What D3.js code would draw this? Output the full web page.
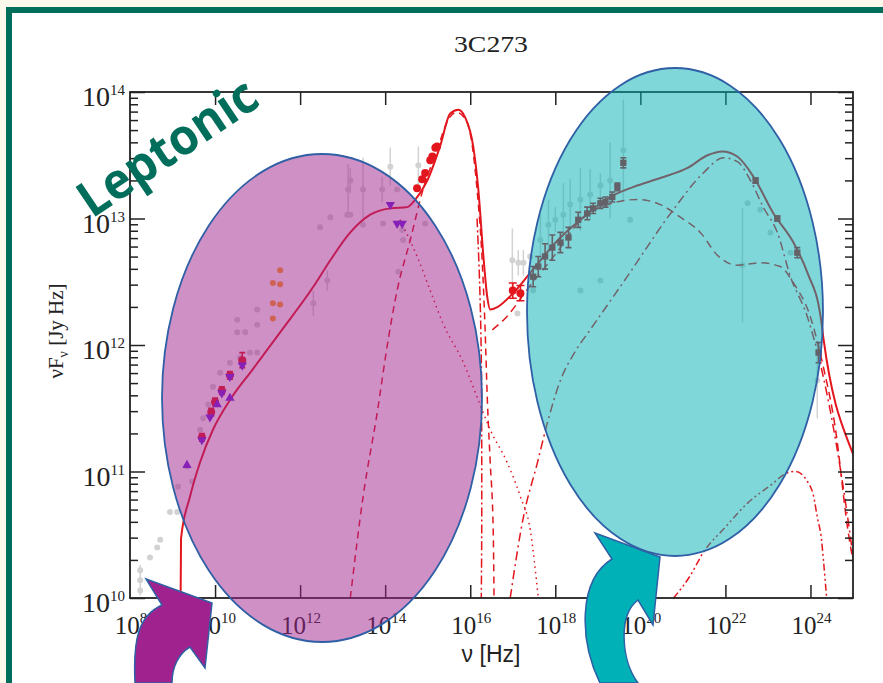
<!DOCTYPE html>
<html>
<head>
<meta charset="utf-8">
<script src="https://cdn.jsdelivr.net/npm/d3@7"></script>
<style>
  body { margin: 0; background: #fdf8ec; }
  svg { display: block; }
</style>
</head>
<body>
<div id="chart"></div>
<script>
// All values are [log10(nu / Hz), log10(nuFnu / Jy Hz), error in dex]
const archivalPoints = [
  [8.24,10.22,0.04],[8.24,10.14,0.04],[8.24,10.06,0.04],[8.47,10.32,0],[8.64,10.40,0],
  [8.71,10.46,0],[8.94,10.68,0],[9.11,10.68,0],[9.13,10.88,0],[9.46,10.92,0],
  [9.34,11.04,0],[9.65,11.33,0],[9.72,11.42,0],[9.84,11.53,0],[9.95,11.67,0],
  [10.12,11.78,0],[10.35,11.86,0],[10.59,11.90,0],[10.82,11.94,0],[10.99,11.94,0],
  [10.52,12.10,0],[10.71,12.10,0],[10.52,12.20,0],[10.99,12.28,0],[10.99,12.16,0],
  [12.31,12.33,0.1],[12.64,12.51,0.08],[12.47,12.93,0],[12.71,13.01,0],[13.11,13.03,0],
  [13.18,13.30,0.1],[13.13,13.23,0.2],[13.18,13.03,0],[13.48,13.23,0.25],[13.48,12.95,0],
  [13.93,13.23,0.1],[13.95,12.96,0],[14.12,13.41,0.15],[14.28,13.23,0],[14.40,12.91,0],
  [14.42,12.83,0],[14.31,12.58,0],[14.78,13.42,0.15],[14.94,12.96,0],
  [16.99,12.67,0.25],[17.13,12.65,0.1],[17.11,12.25,0],[17.25,12.65,0.1],[17.41,12.70,0],
  [17.48,12.43,0],[17.65,12.83,0.2],[17.84,12.95,0.2],[18.00,12.99,0.1],[18.19,13.03,0.25],
  [18.35,13.11,0.2],[18.59,13.15,0.25],[18.82,13.19,0.2],[19.06,13.26,0.1],[19.29,13.30,0.3],
  [19.60,13.54,0.4],[19.76,12.99,0],[18.59,12.43,0],[19.06,12.51,0],
  [22.40,12.63,0.45],[22.52,13.12,0],[22.82,13.07,0],[23.06,12.89,0],[23.53,12.73,0],
  [24.16,11.72,0.3]
];
const radioCircles = [[9.69,11.27,0.03],[9.91,11.47,0.03],[10.0,11.55,0.03],[10.16,11.64,0.03],[10.35,11.76,0.03],[10.64,11.88,0.06]];
const radioUpTriangles = [[9.34,11.05],[10.05,11.53],[10.35,11.58]];
const radioDownTriangles = [[9.69,11.25],[9.88,11.43],[10.16,11.62],[10.35,11.75],[10.64,11.84]];
const submmPoints = [[11.53,12.59],[11.36,12.49],[11.53,12.48],[11.36,12.33],[11.53,12.32],[11.36,12.21]];
const irDownTriangles = [[14.12,13.11],[14.28,12.96],[14.40,12.96]];
const uvPoints = [[14.75,13.24],[14.87,13.31],[14.94,13.36],[15.06,13.46],[15.11,13.49],[15.18,13.56],[15.22,13.57]];
const xrayPoints = [[17.0,12.43,0.06],[17.18,12.41,0.06]];
const highEnergyPoints = [
  [17.48,12.54,0.08],[17.60,12.62,0.08],[17.76,12.70,0.1],[17.93,12.77,0.1],[18.12,12.81,0.08],
  [18.31,12.85,0.08],[18.54,12.99,0.06],[18.75,13.04,0.05],[18.89,13.08,0.04],[19.06,13.12,0.04],
  [19.18,13.13,0.04],[19.34,13.17,0.04],[19.46,13.25,0.03],[19.60,13.44,0.04],
  [22.71,13.30,0.02],[23.22,13.00,0.02],[23.69,12.73,0.04],[24.19,11.94,0.08]
];

// leptonic model curves [log10 nu, log10 nuFnu]
const modelTotal = [
  [9.19,10.0],[9.20,10.47],[9.41,10.80],[9.65,11.075],[9.95,11.33],[10.35,11.565],[10.89,11.81],
  [11.53,12.10],[12.31,12.46],[12.71,12.67],[13.18,12.89],[13.65,13.03],[14.12,13.08],
  [14.52,13.09],[14.71,13.15],[14.99,13.30],[15.29,13.57],[15.53,13.83],[15.72,13.86],
  [15.88,13.80],[16.07,13.57],[16.19,13.23],[16.31,12.70],[16.40,12.38],[16.47,12.28],
  [16.64,12.30],[17.01,12.41],[17.41,12.57],[18.12,12.85],[18.59,12.99],[19.29,13.17],
  [19.84,13.25],[20.47,13.32],[21.11,13.40],[21.58,13.50],[21.93,13.53],[22.28,13.49],
  [22.66,13.33],[23.13,13.04],[23.60,12.81],[23.93,12.57],[24.24,12.22],[24.31,12.04],
  [24.94,11.19],[25.05,11.10]
];
const modelSynchrotron = [
  [14.35,12.99],[14.75,12.70],[15.06,12.43],[15.36,12.17],[15.84,11.86],[16.16,11.59],
  [16.47,11.33],[16.87,11.07],[17.18,10.80],[17.41,10.54],[17.60,10.0]
];
const modelDisk = [
  [13.18,10.0],[13.48,10.80],[13.81,11.46],[14.07,12.04],[14.28,12.43],[14.59,12.83],
  [14.89,13.23],[15.22,13.54],[15.48,13.78],[15.67,13.84],[15.88,13.79],[16.05,13.57],
  [16.16,13.23],[16.28,12.67],[16.35,12.12],[16.40,11.59],[16.47,11.07],[16.54,10.54],[16.56,10.0]
];
const modelTorus = [[16.16,13.0],[16.22,12.5],[16.26,11.9],[16.27,11.2],[16.27,10.5],[16.26,10.0]];
const modelEcDisk = [
  [16.94,10.0],[17.25,10.64],[17.58,11.07],[17.81,11.38],[18.12,11.72],[18.47,11.95],
  [18.82,12.12],[19.69,12.54],[20.71,13.04],[21.48,13.36],[21.95,13.48],[22.28,13.45],
  [22.59,13.30],[22.89,13.09],[23.22,12.89],[23.53,12.54],[23.93,12.22],[24.24,11.84],
  [24.59,11.25],[24.94,10.48],[25.05,10.2]
];
const modelEcBlr = [
  [16.52,12.12],[16.82,12.21],[17.41,12.47],[18.12,12.77],[18.52,12.96],[19.06,13.09],
  [19.93,13.15],[20.47,13.11],[20.94,13.01],[21.41,12.89],[21.81,12.71],[22.28,12.63],
  [22.82,12.65],[23.29,12.62],[23.60,12.49],[24.00,12.22],[24.28,11.86],[24.59,11.33],
  [24.87,10.56],[25.05,10.2]
];
const modelSsc = [
  [20.78,10.0],[21.18,10.18],[21.48,10.36],[22.0,10.56],[22.52,10.75],[23.06,10.89],
  [23.46,10.99],[23.65,11.0],[23.93,10.92],[24.07,10.81],[24.16,10.64],[24.26,10.46],
  [24.31,10.28],[24.38,10.0]
];

const xTickExps = [8, 10, 12, 14, 16, 18, 20, 22, 24];
const yTickExps = [10, 11, 12, 13, 14];

const W = 883, H = 683;
const margin = { left: 130, right: 30, top: 92, bottom: 85 };
const red = "#e3161e";

const svg = d3.select("#chart").append("svg").attr("width", W).attr("height", H);

// slide frame
svg.append("rect").attr("width", W).attr("height", H).attr("fill", "#fdf8ec");
svg.append("rect").attr("x", 9).attr("y", 10).attr("width", 900).attr("height", 700)
  .attr("fill", "#fff").attr("stroke", "#006e5b").attr("stroke-width", 6);

const x = d3.scaleLog().domain([1e8, 1e25]).range([margin.left, W - margin.right]);
const y = d3.scaleLog().domain([1e10, 1e14]).range([H - margin.bottom, margin.top]);
const px = d => x(Math.pow(10, d[0]));
const py = v => y(Math.pow(10, v));

svg.append("defs").append("clipPath").attr("id", "plot")
  .append("rect").attr("x", x.range()[0]).attr("y", y.range()[1])
  .attr("width", x.range()[1] - x.range()[0]).attr("height", y.range()[0] - y.range()[1]);

const plot = svg.append("g").attr("clip-path", "url(#plot)");

// archival data
const arch = plot.append("g").attr("fill", "#d2d2d2").attr("stroke", "#d2d2d2");
arch.selectAll("line").data(archivalPoints.filter(d => d[2] > 0)).join("line")
  .attr("x1", px).attr("x2", px)
  .attr("y1", d => py(d[1] - d[2])).attr("y2", d => py(d[1] + d[2])).attr("stroke-width", 1.5);
arch.selectAll("circle").data(archivalPoints).join("circle")
  .attr("cx", px).attr("cy", d => py(d[1])).attr("r", 3).attr("stroke", "none");

// model curves
const line = d3.line().x(px).y(d => py(d[1])).curve(d3.curveMonotoneX);
const vLine = d3.line().x(px).y(d => py(d[1])).curve(d3.curveCatmullRom.alpha(0.5));
const curves = [
  [modelDisk, "7,5", line],
  [modelSynchrotron, "1.5,4", line],
  [modelTorus, "9,3,2,3", vLine],
  [modelEcDisk, "9,4,2,4", line],
  [modelEcBlr, "8,5", line],
  [modelSsc, "7,3,2,3,2,3", line],
  [modelTotal, null, line]
];
curves.forEach(([data, dash, gen]) => {
  plot.append("path").datum(data).attr("d", gen)
    .attr("fill", "none").attr("stroke", red)
    .attr("stroke-width", dash ? 1.5 : 2)
    .attr("stroke-dasharray", dash);
});

// measured points
function errorBars(g, data, color, cap) {
  g.selectAll(null).data(data).join("path")
    .attr("d", d => {
      const cx = px(d), y1 = py(d[1] - d[2]), y2 = py(d[1] + d[2]);
      return `M${cx},${y1}V${y2}M${cx - cap},${y1}h${2 * cap}M${cx - cap},${y2}h${2 * cap}`;
    })
    .attr("stroke", color).attr("stroke-width", 1.6).attr("fill", "none");
}
const meas = plot.append("g");
errorBars(meas, radioCircles, red, 3);
meas.selectAll(null).data(radioCircles).join("circle")
  .attr("cx", px).attr("cy", d => py(d[1])).attr("r", 4).attr("fill", red);
meas.selectAll(null).data(submmPoints).join("circle")
  .attr("cx", px).attr("cy", d => py(d[1])).attr("r", 3).attr("fill", "#ffa21a");
const tri = d3.symbol().type(d3.symbolTriangle).size(38);
meas.selectAll(null).data(radioUpTriangles).join("path")
  .attr("d", tri).attr("transform", d => `translate(${px(d)},${py(d[1])})`).attr("fill", "#6d1ee0");
meas.selectAll(null).data(radioDownTriangles.concat(irDownTriangles)).join("path")
  .attr("d", tri).attr("transform", d => `translate(${px(d)},${py(d[1])}) rotate(180)`).attr("fill", "#6d1ee0");
meas.selectAll(null).data(uvPoints).join("circle")
  .attr("cx", px).attr("cy", d => py(d[1])).attr("r", 4).attr("fill", red);
errorBars(meas, xrayPoints, red, 4);
meas.selectAll(null).data(xrayPoints).join("circle")
  .attr("cx", px).attr("cy", d => py(d[1])).attr("r", 4).attr("fill", red);
errorBars(meas, highEnergyPoints, "#c8141c", 3);
meas.selectAll(null).data(highEnergyPoints).join("path")
  .attr("d", d3.symbol().type(d3.symbolSquare).size(40))
  .attr("transform", d => `translate(${px(d)},${py(d[1])})`).attr("fill", "#c8141c");

// axes
const xMajor = xTickExps.slice(1).map(e => Math.pow(10, e));
const yMajor = yTickExps.map(e => Math.pow(10, e));
const yMinor = [];
yTickExps.slice(0, -1).forEach(e => d3.range(2, 10).forEach(m => yMinor.push(m * Math.pow(10, e))));

function styleAxis(g) {
  g.select(".domain").remove();
  g.selectAll(".tick line").attr("stroke", "#222").attr("stroke-width", 1.5);
}
const [x0, x1] = x.range(), [y0, y1] = y.range();
svg.append("g").attr("transform", `translate(0,${y0})`)
  .call(d3.axisBottom(x).tickValues(xMajor).tickSize(-13).tickFormat("")).call(styleAxis);
svg.append("g").attr("transform", `translate(0,${y1})`)
  .call(d3.axisTop(x).tickValues(xMajor).tickSize(-13).tickFormat("")).call(styleAxis);
[[x0, d3.axisLeft], [x1, d3.axisRight]].forEach(([pos, ax]) => {
  svg.append("g").attr("transform", `translate(${pos},0)`)
    .call(ax(y).tickValues(yMajor).tickSize(-15).tickFormat("")).call(styleAxis);
  svg.append("g").attr("transform", `translate(${pos},0)`)
    .call(ax(y).tickValues(yMinor).tickSize(-8).tickFormat("")).call(styleAxis);
});
svg.append("rect").attr("x", x0).attr("y", y1).attr("width", x1 - x0).attr("height", y0 - y1)
  .attr("fill", "none").attr("stroke", "#222").attr("stroke-width", 1.8);

const serif = "'Liberation Serif', 'DejaVu Serif', serif";
function powerLabel(sel, e, sup) {
  sel.append("tspan").text("10");
  sel.append("tspan").attr("dy", -11).attr("font-size", sup).text(e);
}
svg.append("g").selectAll("text").data(xTickExps).join("text")
  .attr("x", e => x(Math.pow(10, e)) + 1).attr("y", y0 + 36)
  .attr("text-anchor", "middle").attr("font-family", serif).attr("font-size", 25).attr("fill", "#222")
  .each(function (e) { powerLabel(d3.select(this), e, 15); });
svg.append("g").selectAll("text").data(yTickExps).join("text")
  .attr("x", x0 - 5).attr("y", e => y(Math.pow(10, e)) + 14)
  .attr("text-anchor", "end").attr("font-family", serif).attr("font-size", 28).attr("fill", "#222")
  .each(function (e) { powerLabel(d3.select(this), e, 15); });

svg.append("text").attr("x", 491).attr("y", 52).attr("text-anchor", "middle")
  .attr("font-family", serif).attr("font-size", 24).attr("fill", "#222")
  .attr("textLength", 74).attr("lengthAdjust", "spacingAndGlyphs").text("3C273");
svg.append("text").attr("x", 491).attr("y", 662).attr("text-anchor", "middle")
  .attr("font-family", "'Liberation Sans', Arial, sans-serif").attr("font-size", 23).attr("fill", "#222")
  .text("ν [Hz]");
const yl = svg.append("text").attr("transform", "translate(63,331) rotate(-90)")
  .attr("text-anchor", "middle").attr("font-family", serif).attr("font-size", 21).attr("fill", "#222");
yl.append("tspan").text("νF");
yl.append("tspan").attr("dy", 5).attr("font-size", 14).text("ν");
yl.append("tspan").attr("dy", -5).text(" [Jy Hz]");

// highlight overlays
const outline = "#2f5fa5";
svg.append("ellipse").attr("cx", 322).attr("cy", 398).attr("rx", 160).attr("ry", 244)
  .attr("fill", "#a0228e").attr("fill-opacity", 0.5).attr("stroke", outline).attr("stroke-width", 1.8);
svg.append("ellipse").attr("cx", 675).attr("cy", 312).attr("rx", 148).attr("ry", 244)
  .attr("fill", "#00afb6").attr("fill-opacity", 0.5).attr("stroke", outline).attr("stroke-width", 1.8);

svg.append("path")
  .attr("d", "M146,579 L212,603 L205,668 L190,647 C178,654 172,668 172,683 L135,683 C133,640 138,616 162,605 Z")
  .attr("fill", "#a0228e").attr("stroke", outline).attr("stroke-width", 1.5);
svg.append("path")
  .attr("d", "M595,533 L660,557 L653,625 L638,600 C618,615 621,660 638,683 L600,683 C579,640 578,580 612,559 Z")
  .attr("fill", "#00b1b8").attr("stroke", outline).attr("stroke-width", 1.5);

svg.append("text").attr("transform", "translate(92,219) rotate(-34)")
  .attr("font-family", "'Open Sans', 'Noto Sans', sans-serif").attr("font-weight", 700)
  .attr("font-size", 50).attr("fill", "#006e5b")
  .attr("textLength", 205).attr("lengthAdjust", "spacingAndGlyphs")
  .text("Leptonic");
</script>
</body>
</html>
